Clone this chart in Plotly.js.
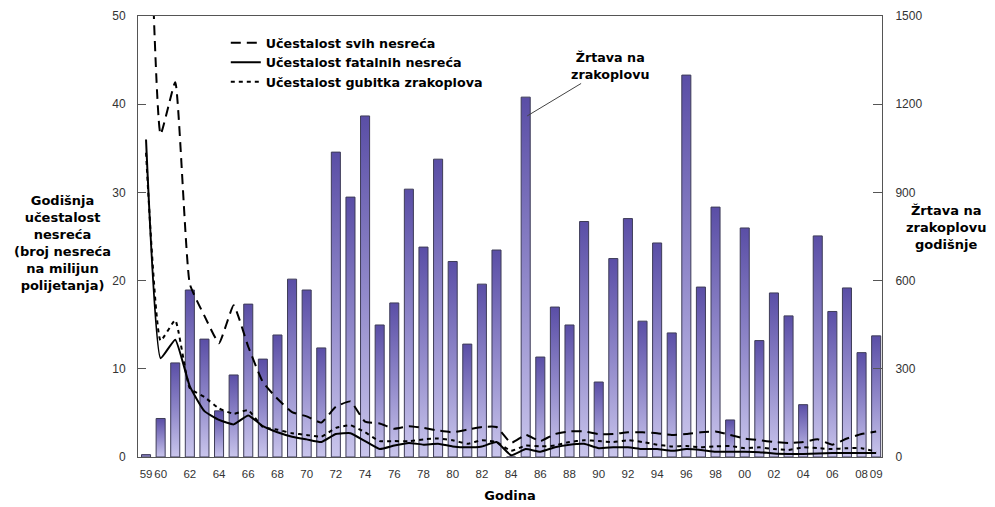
<!DOCTYPE html>
<html>
<head>
<meta charset="utf-8">
<script src="https://cdn.plot.ly/plotly-3.0.1.min.js"></script>
<style>
  html, body { margin: 0; padding: 0; background: #ffffff; }
  #chart { width: 995px; height: 507px; }
</style>
</head>
<body>
<div id="chart"></div>
<script>
// ---- data ----
const years = [1959,1960,1961,1962,1963,1964,1965,1966,1967,1968,1969,
               1970,1971,1972,1973,1974,1975,1976,1977,1978,1979,
               1980,1981,1982,1983,1984,1985,1986,1987,1988,1989,
               1990,1991,1992,1993,1994,1995,1996,1997,1998,1999,
               2000,2001,2002,2003,2004,2005,2006,2007,2008,2009];

// onboard fatalities per year (right axis)
const fatalities = [8,131,320,568,401,157,279,520,333,415,605,
                    568,371,1037,884,1160,449,524,911,714,1013,
                    665,384,588,704,0,1224,340,510,449,801,
                    255,675,811,462,728,422,1299,578,850,126,
                    779,396,558,480,178,752,495,575,355,412];

// all accidents rate (dashed)
const allRate = [78,36.6,42.5,19.6,16,12.9,17.2,12.5,8.5,6.6,5.1,
                 4.6,3.9,5.7,6.3,4.0,3.8,3.2,3.5,3.3,3.0,
                 2.8,3.1,3.4,3.4,1.6,2.5,1.8,2.6,2.9,2.9,
                 2.6,2.6,2.8,2.8,2.7,2.5,2.6,2.8,2.9,2.5,
                 2.1,1.9,1.7,1.6,1.7,2.0,1.4,2.1,2.6,2.9];

// fatal accidents rate (solid)
const fatalRate = [36,11.2,13.3,8.0,5.2,4.2,3.7,4.7,3.5,2.8,2.3,
                   2.0,1.7,2.6,2.7,1.8,0.9,1.3,1.6,1.4,1.5,
                   1.2,1.1,1.2,1.7,0.2,0.9,0.6,1.1,1.4,1.5,
                   1.0,1.1,1.1,0.9,0.9,0.7,0.9,0.8,0.6,0.6,
                   0.6,0.55,0.4,0.35,0.35,0.4,0.45,0.45,0.45,0.45];

// hull loss rate (dotted)
const hullRate = [34.5,13.2,15.5,7.8,6.8,5.5,4.9,5.3,3.4,3.1,2.7,
                  2.5,2.3,3.3,3.6,2.8,1.8,1.8,1.8,2.0,2.1,
                  1.9,1.5,1.9,1.7,0.7,1.3,1.2,1.3,1.7,1.9,
                  1.8,1.7,1.9,1.7,1.4,1.2,1.25,1.1,1.2,1.25,
                  1.0,1.1,0.9,0.8,1.1,1.0,0.9,1.0,1.0,0.6];

const xTickVals = [1959,1960,1962,1964,1966,1968,1970,1972,1974,1976,1978,
                   1980,1982,1984,1986,1988,1990,1992,1994,1996,1998,
                   2000,2002,2004,2006,2008,2009];
const xTickText = ['59','60','62','64','66','68','70','72','74','76','78',
                   '80','82','84','86','88','90','92','94','96','98',
                   '00','02','04','06','08','09'];
const leftTicks = [0,10,20,30,40,50];
const rightTicks = [0,300,600,900,1200,1500];

const seriesNames = ['Učestalost svih nesreća','Učestalost fatalnih nesreća','Učestalost gubitka zrakoplova'];

// ---- styling ----
const BOLD = 'DejaVu Sans, Verdana, sans-serif';
const TICKF = 'Liberation Sans, Arial, sans-serif';
const axisCol = '#555555';

const data = [
  {
    type: 'bar', x: years, y: fatalities, yaxis: 'y', width: 0.62,
    marker: { color: '#8e86c8', line: { color: '#3e3c58', width: 1 } },
    showlegend: false, hoverinfo: 'skip'
  },
  {
    type: 'scatter', mode: 'lines', x: years, y: allRate, yaxis: 'y2', name: seriesNames[0],
    line: { color: '#000000', width: 2, dash: '10px,6px', shape: 'spline', smoothing: 0.4 }
  },
  {
    type: 'scatter', mode: 'lines', x: years, y: fatalRate, yaxis: 'y2', name: seriesNames[1],
    line: { color: '#000000', width: 2, shape: 'spline', smoothing: 0.4 }
  },
  {
    type: 'scatter', mode: 'lines', x: years, y: hullRate, yaxis: 'y2', name: seriesNames[2],
    line: { color: '#000000', width: 2, dash: '4px,4px', shape: 'spline', smoothing: 0.4 }
  }
];

const layout = {
  width: 995, height: 507,
  margin: { l: 138, r: 113, t: 16, b: 50, pad: 0 },
  paper_bgcolor: '#ffffff', plot_bgcolor: '#ffffff',
  showlegend: true,
  legend: {
    x: 0.118, y: 0.973, xanchor: 'left', yanchor: 'top',
    bgcolor: 'rgba(0,0,0,0)', borderwidth: 0,
    font: { family: BOLD, size: 12.7, color: '#000000', weight: 'bold' },
    tracegroupgap: 0
  },
  bargap: 0.38,
  xaxis: {
    range: [1958.45, 2009.4], type: 'linear',
    tickvals: xTickVals, ticktext: xTickText, tickangle: 0,
    ticks: '', showgrid: false, zeroline: false,
    showline: true, linecolor: axisCol, linewidth: 1, mirror: true,
    tickfont: { family: TICKF, size: 11.5, color: '#333333' },
    ticklabelstandoff: 6,
    title: { text: 'Godina', font: { family: BOLD, size: 13, color: '#000000', weight: 'bold' }, standoff: 12 }
  },
  yaxis: {
    range: [0, 1500], tickvals: rightTicks, side: 'right',
    ticks: 'inside', ticklen: 9, tickcolor: axisCol, tickwidth: 1,
    showgrid: false, zeroline: false,
    showline: true, linecolor: axisCol, linewidth: 1,
    tickfont: { family: TICKF, size: 12, color: '#333333' },
    ticklabelstandoff: 10
  },
  yaxis2: {
    range: [0, 50], tickvals: leftTicks, overlaying: 'y', side: 'left', anchor: 'x',
    ticks: 'inside', ticklen: 8, tickcolor: axisCol, tickwidth: 1,
    showgrid: false, zeroline: false,
    showline: true, linecolor: axisCol, linewidth: 1,
    tickfont: { family: TICKF, size: 12, color: '#333333' },
    ticklabelstandoff: 9
  },
  annotations: [
    {
      xref: 'paper', yref: 'paper', x: -0.102, y: 0.485, xanchor: 'center', yanchor: 'middle',
      text: 'Godišnja<br>učestalost<br>nesreća<br>(broj nesreća<br>na milijun<br>polijetanja)',
      showarrow: false, align: 'center',
      font: { family: BOLD, size: 13, color: '#000000', weight: 'bold' }
    },
    {
      xref: 'paper', yref: 'paper', x: 1.086, y: 0.52, xanchor: 'center', yanchor: 'middle',
      text: 'Žrtava na<br>zrakoplovu<br>godišnje',
      showarrow: false, align: 'center',
      font: { family: BOLD, size: 13, color: '#000000', weight: 'bold' }
    },
    {
      xref: 'x', yref: 'y', x: 1985.1, y: 1160,
      text: 'Žrtava na<br>zrakoplovu',
      showarrow: true, arrowhead: 0, arrowwidth: 1, arrowcolor: '#444444',
      ax: 83, ay: -50, align: 'center',
      font: { family: BOLD, size: 12.7, color: '#000000', weight: 'bold' }
    }
  ]
};

function applyGradient() {
  const NS = 'http://www.w3.org/2000/svg';
  const svg = document.querySelector('#chart .main-svg');
  if (!svg) return;
  let defs = svg.querySelector('defs');
  if (!defs) { defs = document.createElementNS(NS, 'defs'); svg.insertBefore(defs, svg.firstChild); }
  const grad = document.createElementNS(NS, 'linearGradient');
  grad.setAttribute('id', 'barGrad');
  grad.setAttribute('x1', '0'); grad.setAttribute('y1', '0');
  grad.setAttribute('x2', '0'); grad.setAttribute('y2', '1');
  [['0', '#5a4ea6'], ['0.5', '#8f87c9'], ['1', '#c9c5ec']].forEach(([o, c]) => {
    const s = document.createElementNS(NS, 'stop');
    s.setAttribute('offset', o); s.setAttribute('stop-color', c);
    grad.appendChild(s);
  });
  defs.appendChild(grad);
  document.querySelectorAll('#chart .barlayer .point path').forEach(p => {
    p.style.fill = 'url(#barGrad)';
  });
}

Plotly.newPlot('chart', data, layout, { staticPlot: true, displayModeBar: false }).then(applyGradient);
</script>
</body>
</html>
